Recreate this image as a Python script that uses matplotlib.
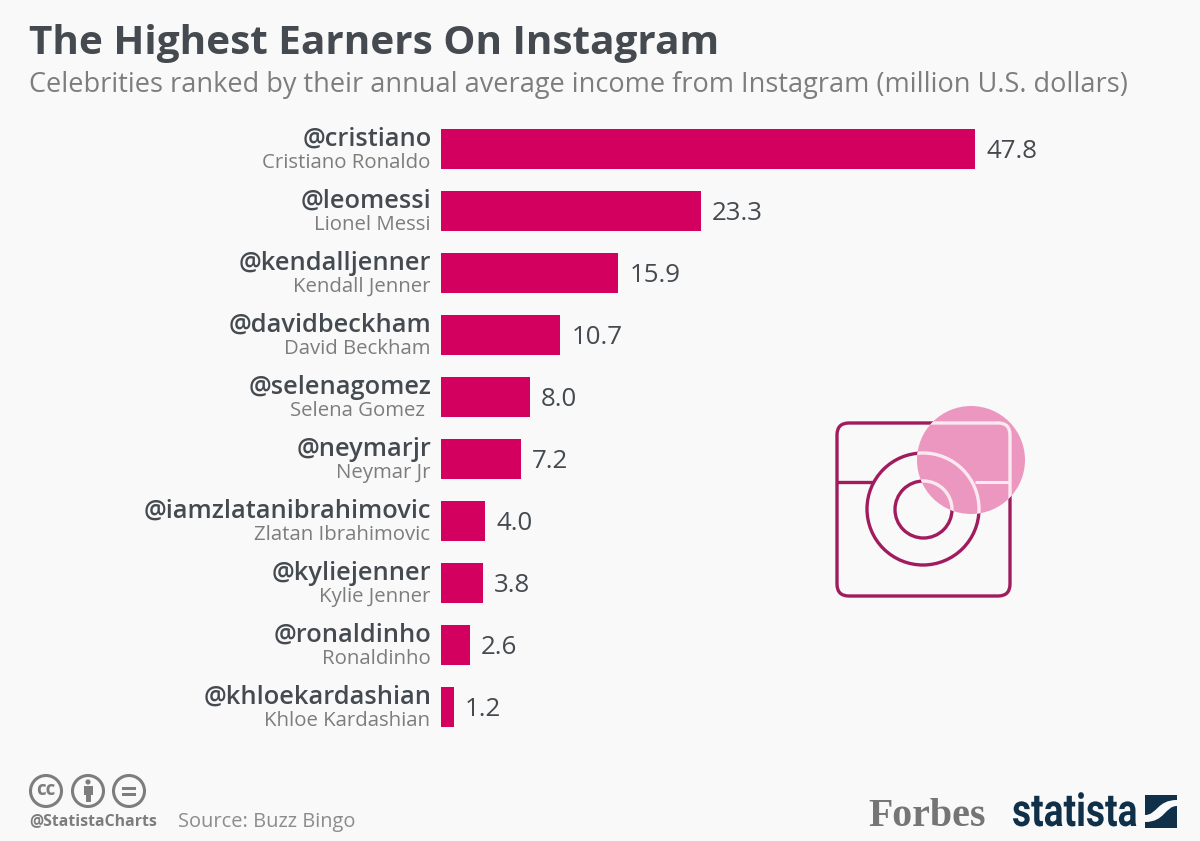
import matplotlib
matplotlib.use("Agg")
import matplotlib.pyplot as plt
from matplotlib.patches import Circle, FancyBboxPatch, Rectangle, PathPatch
from matplotlib.patheffects import AbstractPathEffect
from matplotlib.path import Path
from matplotlib.transforms import Affine2D

handles = ["@cristiano", "@leomessi", "@kendalljenner", "@davidbeckham", "@selenagomez",
           "@neymarjr", "@iamzlatanibrahimovic", "@kyliejenner", "@ronaldinho", "@khloekardashian"]
names = ["Cristiano Ronaldo", "Lionel Messi", "Kendall Jenner", "David Beckham", "Selena Gomez ",
         "Neymar Jr", "Zlatan Ibrahimovic", "Kylie Jenner", "Ronaldinho", "Khloe Kardashian"]
income = [47.8, 23.3, 15.9, 10.7, 8.0, 7.2, 4.0, 3.8, 2.6, 1.2]

BG = "#f9f9f9"
BAR = "#d4005f"
DARK = "#444a4f"
GREY = "#7d7d7d"
LINE = "#a01c5e"
PINK = "#ec97c0"

plt.rcParams["font.family"] = ["Open Sans", "DejaVu Sans"]

W, H = 1200, 841
fig = plt.figure(figsize=(12, 8.41), dpi=100, facecolor=BG)


# no condensed font installed, so squeeze the logo text sideways around x0 (pixels)
class Squeeze(AbstractPathEffect):
    def __init__(self, x0, sx):
        super().__init__()
        self.x0 = x0
        self.sx = sx

    def draw_path(self, renderer, gc, tpath, affine, rgbFace=None):
        squeeze = Affine2D().translate(-self.x0, 0).scale(self.sx, 1).translate(self.x0, 0)
        renderer.draw_path(gc, tpath, affine + squeeze, rgbFace)


# page layer in pixel coordinates (y down, same as the picture)
page = fig.add_axes([0, 0, 1, 1])
page.set_xlim(0, W)
page.set_ylim(H, 0)
page.axis("off")

page.text(29, 43, "The Highest Earners On Instagram", fontsize=29.15, fontweight="bold",
          color=DARK, va="center", ha="left")
page.text(29, 85, "Celebrities ranked by their annual average income from Instagram (million U.S. dollars)",
          fontsize=19.57, color=GREY, va="center", ha="left")

# bars
ax = fig.add_axes([440.5 / W, 1 - 738 / H, 600 / W, 620 / H])
ax.patch.set_alpha(0)
ax.set_xlim(0, 600 / 11.19)
ax.set_ylim(len(income) - 0.5, -0.5)
ax.axis("off")
ypos = list(range(len(income)))
bars = ax.barh(ypos, income, height=40 / 62, color=BAR)

for y, val, h, n in zip(ypos, income, handles, names):
    ax.annotate(f"{val:.1f}", (val, y), xytext=(11, -3), textcoords="offset pixels",
                fontsize=18.6, color=DARK, va="center", ha="left")
    ax.annotate(h, (0, y), xytext=(-9, 10), textcoords="offset pixels",
                fontsize=18.3, color=DARK, va="center", ha="right", fontweight="semibold")
    ax.annotate(n, (0, y), xytext=(-10, -14), textcoords="offset pixels",
                fontsize=14.7, color=GREY, va="center", ha="right")

# camera icon, drawn twice: dark outline, then white inside the pink circle
def camera(color, clip=None):
    parts = [
        FancyBboxPatch((847, 433), 153, 153, boxstyle="round,pad=10,rounding_size=12",
                       fc="none", ec=color, lw=2.4),
        Circle((923, 509), 56, fc="none", ec=color, lw=2.4),
        Circle((923.5, 509.5), 28.5, fc="none", ec=color, lw=2.4),
    ]
    for p in parts:
        page.add_patch(p)
        if clip is not None:
            p.set_clip_path(clip)
    return parts

camera(LINE)
page.plot([837, 873], [482, 482], color=LINE, lw=2.4, solid_capstyle="butt")
spot = Circle((971, 460), 54, fc=PINK, ec="none")
page.add_patch(spot)
camera("#fbe9f1", clip=spot)
page.plot([975, 1009], [482, 482], color="#fbe9f1", lw=2.2, solid_capstyle="butt")

# licence icons
for cx in (46, 88, 129):
    page.add_patch(Circle((cx, 791), 15.5, fc="none", ec=GREY, lw=2.2))
page.text(46, 790, "cc", fontsize=13.5, fontweight="bold", color=GREY, ha="center", va="center")
page.add_patch(Circle((88, 782), 2.6, fc=GREY, ec="none"))
page.add_patch(Rectangle((83.5, 786), 9, 9, fc=GREY, ec="none"))
page.add_patch(Rectangle((85.5, 795), 5, 7, fc=GREY, ec="none"))
page.add_patch(Rectangle((122, 786.5), 14, 3, fc=GREY, ec="none"))
page.add_patch(Rectangle((122, 792.5), 14, 3, fc=GREY, ec="none"))

page.text(29, 821, "@StatistaCharts", fontsize=11.4, fontweight="bold", color=GREY, ha="left", va="center")
page.text(178, 821.5, "Source: Buzz Bingo", fontsize=14.4, color="#8c8c8c", ha="left", va="center")

# logos
page.text(868, 816, "Forbes", family="Liberation Serif", fontsize=28.7, fontweight="bold",
          color="#757575", ha="left", va="center")
page.text(1012, 813, "statista", family="Roboto", fontsize=33, fontweight="bold",
          color="#10304a", ha="left", va="center", path_effects=[Squeeze(1012, 0.81)])
page.add_patch(Rectangle((1145, 795), 32, 33, fc="#10304a", ec="none"))
swoosh = Path([(1145, 815), (1157, 815), (1157, 800), (1177, 800), (1177, 806),
               (1165, 806), (1165, 822), (1145, 822), (1145, 815)],
              [Path.MOVETO, Path.CURVE4, Path.CURVE4, Path.CURVE4, Path.LINETO,
               Path.CURVE4, Path.CURVE4, Path.CURVE4, Path.CLOSEPOLY])
page.add_patch(PathPatch(swoosh, fc=BG, ec="none"))

fig.savefig("out.png", dpi=100, facecolor=BG)
